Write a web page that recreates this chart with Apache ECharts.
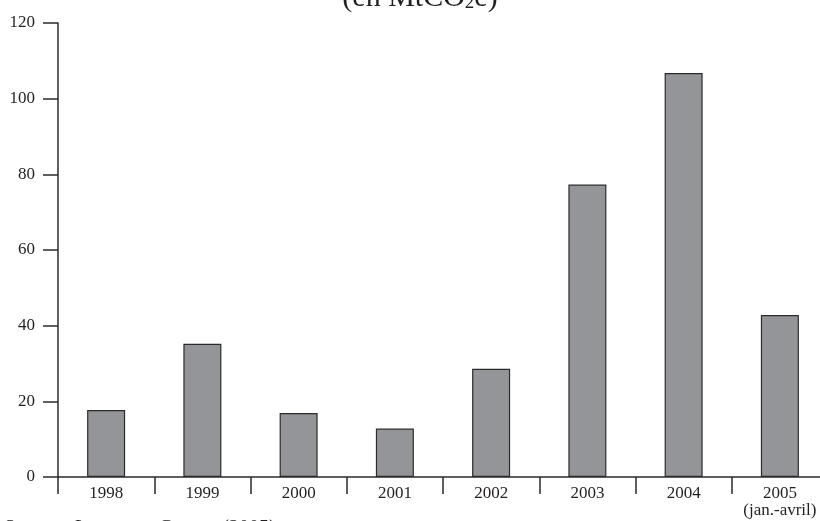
<!DOCTYPE html>
<html>
<head>
<meta charset="utf-8">
<script src="https://cdn.jsdelivr.net/npm/echarts@6/dist/echarts.min.js"></script>
<style>html,body{margin:0;padding:0;background:#fff;}#c{width:820px;height:521px;}</style>
</head>
<body>
<div id="c"></div>
<script>
var categories = ['1998', '1999', '2000', '2001', '2002', '2003', '2004', '2005\n(jan.-avril)'];
var volumes = [17.7, 35.2, 16.9, 12.8, 28.6, 77.3, 106.8, 42.8];
var yTicks = [0, 20, 40, 60, 80, 100, 120];

var FONT = '"Liberation Serif", "DejaVu Serif", serif';
var AX = '#2b2b2b';

var chart = echarts.init(document.getElementById('c'), null, {renderer: 'canvas'});
chart.setOption({
  animation: false,
  backgroundColor: '#fff',
  grid: {left: 58, top: 23, bottom: 44, width: 770, containLabel: false, outerBoundsMode: 'none'},
  graphic: [
    {
      type: 'text', x: 420, y: 13,
      style: {
        x: 0, y: 0,
        text: '{a|(en MtCO}{s|2}{a|e)}',
        align: 'center', verticalAlign: 'bottom',
        rich: {
          a: {fontFamily: FONT, fontSize: 30, lineHeight: 30, fill: '#231f20'},
          s: {fontFamily: FONT, fontSize: 19, lineHeight: 23, fill: '#231f20', verticalAlign: 'bottom'}
        }
      }
    },
    {
      type: 'text', x: 4, y: 518.5,
      style: {text: 'Source : Lecocq et Capoor (2005)', fontFamily: FONT, fontSize: 20, lineHeight: 20, fill: '#231f20'}
    }
  ],
  xAxis: {
    type: 'category',
    data: categories,
    boundaryGap: true,
    axisLine: {show: true, lineStyle: {color: AX, width: 1.5}},
    axisTick: {show: true, length: 17, inside: false, lineStyle: {color: AX, width: 1.5}},
    axisLabel: {margin: 8, fontFamily: FONT, fontSize: 17, lineHeight: 17, color: '#231f20', interval: 0}
  },
  yAxis: {
    type: 'value',
    min: yTicks[0],
    max: yTicks[yTicks.length - 1],
    interval: yTicks[1] - yTicks[0],
    splitLine: {show: false},
    axisLine: {show: true, lineStyle: {color: AX, width: 1.5}},
    axisTick: {show: true, length: 15, inside: false, lineStyle: {color: AX, width: 1.5}},
    axisLabel: {margin: 23, fontFamily: FONT, fontSize: 17, color: '#231f20'}
  },
  series: [{
    type: 'bar',
    data: volumes,
    barWidth: 38,
    itemStyle: {color: '#939598', borderColor: '#2b2b2b', borderWidth: 1.2},
    z: 1
  }]
});
</script>
</body>
</html>
